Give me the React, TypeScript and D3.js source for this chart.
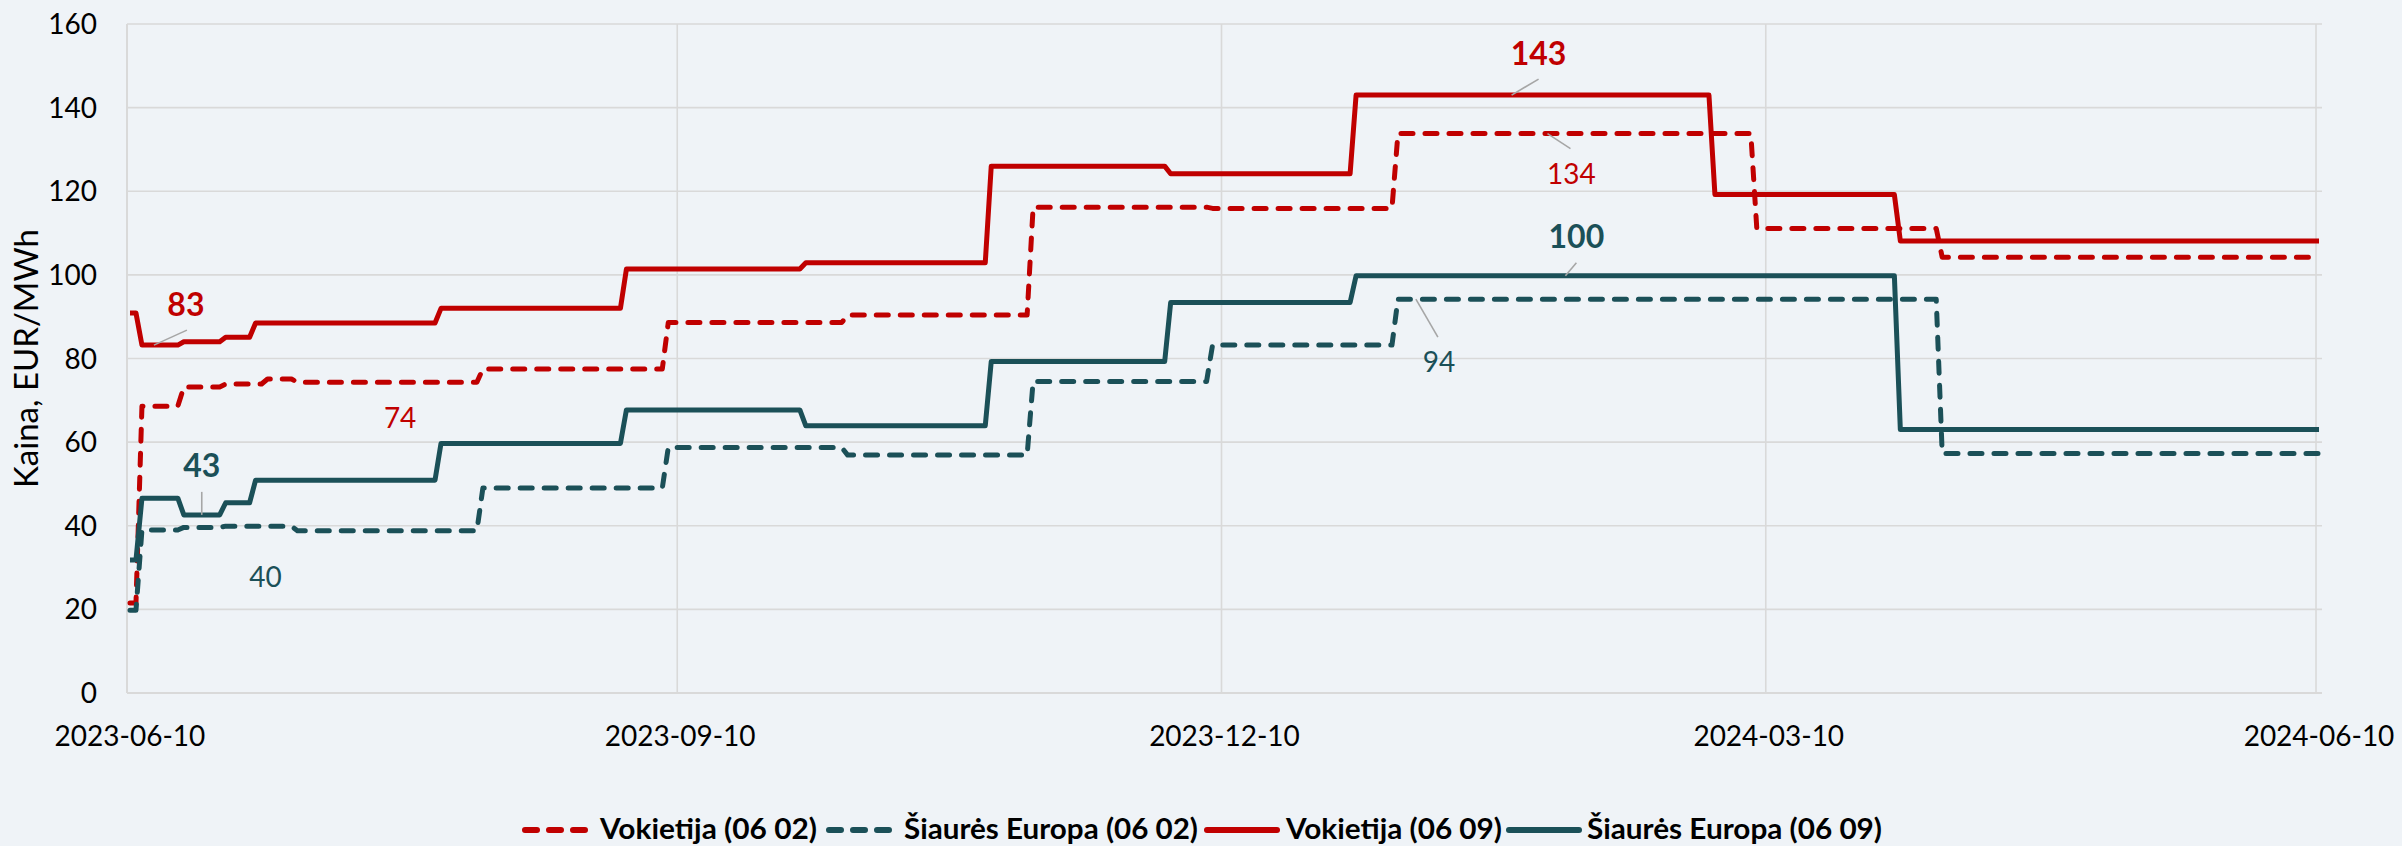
import { useMemo } from "react";
import * as d3 from "d3";

const WIDTH = 2402;
const HEIGHT = 846;
// plot area: x 127 → 2322, y 24 → 693
const MARGIN = { top: 24, right: 80, bottom: 153, left: 127 };

const RED = "#C00000";
const TEAL = "#1B5058";
const GRID = "#D9D9D9";
const BG = "#EFF3F7";
const FONT = "Lato, 'Open Sans', sans-serif";

const parse = d3.timeParse("%Y-%m-%d");

// axis
const X_START = "2023-06-10";
const X_END = "2024-06-11"; // one extra day slot after the last tick
const DATA_END = "2024-06-10";
const xTickLabels = ["2023-06-10", "2023-09-10", "2023-12-10", "2024-03-10", "2024-06-10"];
const yTicks = [0, 20, 40, 60, 80, 100, 120, 140, 160];

const seriesNames = [
  "Vokietija (06 02)",
  "Šiaurės Europa (06 02)",
  "Vokietija (06 09)",
  "Šiaurės Europa (06 09)",
];

// Vokietija (06 02) – step start dates and levels
const deOldDates = ["2023-06-10", "2023-06-12", "2023-06-19", "2023-06-26", "2023-07-03", "2023-07-08", "2023-08-08", "2023-09-08", "2023-10-08", "2023-11-08", "2023-12-08", "2024-01-08", "2024-03-08", "2024-04-08"];
const deOldValues = [21.5, 68.6, 73.2, 73.9, 75.1, 74.3, 77.5, 88.6, 90.4, 116.2, 115.9, 133.8, 111.1, 104.2];

// Šiaurės Europa (06 02)
const neOldDates = ["2023-06-10", "2023-06-12", "2023-06-19", "2023-06-26", "2023-07-08", "2023-08-08", "2023-09-08", "2023-10-08", "2023-11-08", "2023-12-08", "2024-01-08", "2024-04-08"];
const neOldValues = [19.8, 39.0, 39.6, 39.9, 38.8, 49.0, 58.7, 56.9, 74.5, 83.2, 94.2, 57.3];

// Vokietija (06 09)
const deNewDates = ["2023-06-10", "2023-06-12", "2023-06-19", "2023-06-26", "2023-07-01", "2023-08-01", "2023-09-01", "2023-10-01", "2023-11-01", "2023-12-01", "2024-01-01", "2024-03-01", "2024-04-01"];
const deNewValues = [90.9, 83.2, 84.0, 85.1, 88.5, 92.0, 101.4, 102.9, 126.0, 124.2, 143.0, 119.2, 108.1];

// Šiaurės Europa (06 09)
const neNewDates = ["2023-06-10", "2023-06-12", "2023-06-19", "2023-06-26", "2023-07-01", "2023-08-01", "2023-09-01", "2023-10-01", "2023-11-01", "2023-12-01", "2024-01-01", "2024-04-01"];
const neNewValues = [31.8, 46.6, 42.6, 45.5, 50.9, 59.7, 67.7, 63.9, 79.3, 93.4, 99.8, 63.0];

// data labels: series index, text, anchor date and value
const labelTexts = ["83", "43", "74", "40", "143", "134", "100", "94"];
const labelSeries = [2, 3, 0, 1, 2, 0, 3, 1];
const labelDates = ["2023-06-14", "2023-06-22", "2023-07-25", "2023-07-03", "2024-01-27", "2024-02-02", "2024-02-05", "2024-01-11"];
const labelValues = [83.2, 42.6, 74.3, 39.9, 143.0, 133.8, 99.8, 94.2];

// label placement (px offsets from the anchor), leader end offsets
const LABEL_LAYOUT = [
  { dx: 32, dy: -41, lx: 33, ly: -15 },
  { dx: 0, dy: -49, lx: 0, ly: -23 },
  { dx: 1, dy: 36, lx: null, ly: null },
  { dx: -2, dy: 51, lx: null, ly: null },
  { dx: 27, dy: -42, lx: 27, ly: -16 },
  { dx: 24, dy: 40, lx: 23, ly: 15 },
  { dx: 11, dy: -39, lx: 11, ly: -13 },
  { dx: 23, dy: 63, lx: 22, ly: 38 },
];

const LEGEND_LAYOUT = [
  { sx: 522, tx: 600, tw: 217 },
  { sx: 826, tx: 904, tw: 294 },
  { sx: 1207, tx: 1286, tw: 216 },
  { sx: 1509, tx: 1587, tw: 295 },
];

const seriesColors = [RED, TEAL, RED, TEAL];
const seriesDashed = [true, true, false, false];

type Pt = [Date, number];

const stepPoints = (dates: string[], values: number[]): Pt[] => {
  const pts: Pt[] = [];
  dates.forEach((s, i) => {
    const start = parse(s)!;
    const last =
      i < dates.length - 1
        ? d3.timeDay.offset(parse(dates[i + 1])!, -1)
        : parse(DATA_END)!;
    pts.push([start, values[i]]);
    if (+last > +start) pts.push([last, values[i]]);
  });
  return pts;
};

// each day sits in the middle of its slot
const noon = (d: Date) => d3.timeHour.offset(d, 12);

export default function App() {
  const boundsWidth = WIDTH - MARGIN.left - MARGIN.right;
  const boundsHeight = HEIGHT - MARGIN.top - MARGIN.bottom;

  const xScale = useMemo(
    () =>
      d3
        .scaleTime()
        .domain([parse(X_START)!, parse(X_END)!])
        .range([MARGIN.left, MARGIN.left + boundsWidth]),
    [boundsWidth]
  );
  const yScale = useMemo(
    () =>
      d3
        .scaleLinear()
        .domain([0, 160])
        .range([MARGIN.top + boundsHeight, MARGIN.top]),
    [boundsHeight]
  );

  const series = [
    stepPoints(deOldDates, deOldValues),
    stepPoints(neOldDates, neOldValues),
    stepPoints(deNewDates, deNewValues),
    stepPoints(neNewDates, neNewValues),
  ];

  const line = d3
    .line<Pt>()
    .x((d) => xScale(noon(d[0])))
    .y((d) => yScale(d[1]));

  const x0 = MARGIN.left;
  const x1 = MARGIN.left + boundsWidth;
  const yBottom = yScale(0);

  return (
    <div style={{ position: "absolute", left: 0, top: 0 }}>
      <svg width={WIDTH} height={HEIGHT} style={{ display: "block", background: BG }} fontFamily={FONT}>
        <rect x={0} y={0} width={WIDTH} height={HEIGHT} fill={BG} />

        {/* horizontal grid */}
        {yTicks.map((t) => (
          <line key={"hg" + t} x1={x0} x2={x1} y1={yScale(t)} y2={yScale(t)} stroke={GRID} strokeWidth={t === 0 ? 2.2 : 1.6} />
        ))}
        {/* vertical grid */}
        {xTickLabels.slice(1).map((t) => (
          <line key={"vg" + t} x1={xScale(parse(t)!)} x2={xScale(parse(t)!)} y1={MARGIN.top} y2={yBottom} stroke={GRID} strokeWidth={1.6} />
        ))}
        <line x1={x0} x2={x0} y1={MARGIN.top} y2={yBottom} stroke={GRID} strokeWidth={2} />

        {/* y tick labels */}
        {yTicks.map((t) => (
          <text key={"yt" + t} x={97} y={yScale(t) + 10} textAnchor="end" fontSize={28} fill="#000">
            {t}
          </text>
        ))}
        {/* x tick labels */}
        {xTickLabels.map((t) => (
          <text key={"xt" + t} x={xScale(noon(parse(t)!))} y={746} textAnchor="middle" fontSize={28} fill="#000">
            {t}
          </text>
        ))}

        {/* axis title */}
        <text transform={`translate(38, ${(MARGIN.top + yBottom) / 2}) rotate(-90)`} textAnchor="middle" fontSize={33} fill="#000">
          Kaina, EUR/MWh
        </text>

        {/* series */}
        {series.map((pts, i) => (
          <path
            key={"s" + i}
            d={line(pts) || ""}
            fill="none"
            stroke={seriesColors[i]}
            strokeWidth={5}
            strokeDasharray={seriesDashed[i] ? "12 12" : undefined}
            strokeLinecap={seriesDashed[i] ? "round" : "butt"}
            strokeLinejoin="round"
          />
        ))}

        {/* data labels */}
        {labelTexts.map((txt, i) => {
          const ax = xScale(noon(parse(labelDates[i])!));
          const ay = yScale(labelValues[i]);
          const lay = LABEL_LAYOUT[i];
          const bold = labelSeries[i] >= 2;
          const size = bold ? 32 : 28;
          return (
            <g key={"lab" + i}>
              {lay.lx !== null && (
                <line x1={ax} y1={ay} x2={ax + lay.lx} y2={ay + (lay.ly as number)} stroke="#A6A6A6" strokeWidth={1.6} />
              )}
              <text
                x={ax + lay.dx}
                y={ay + lay.dy + size * 0.36}
                textAnchor="middle"
                fontSize={size}
                fontWeight={bold ? 700 : 400}
                fill={seriesColors[labelSeries[i]]}
              >
                {txt}
              </text>
            </g>
          );
        })}

        {/* legend */}
        {seriesNames.map((name, i) => {
          const l = LEGEND_LAYOUT[i];
          return (
            <g key={"lg" + i}>
              <line
                x1={seriesDashed[i] ? l.sx + 3 : l.sx}
                x2={seriesDashed[i] ? l.sx + 63 : l.sx + 70}
                y1={830}
                y2={830}
                stroke={seriesColors[i]}
                strokeWidth={6}
                strokeDasharray={seriesDashed[i] ? "12 12" : undefined}
                strokeLinecap="round"
              />
              <text x={l.tx} y={839} fontSize={29} fontWeight={700} fill="#000" textLength={l.tw} lengthAdjust="spacingAndGlyphs">
                {name}
              </text>
            </g>
          );
        })}
      </svg>
    </div>
  );
}
